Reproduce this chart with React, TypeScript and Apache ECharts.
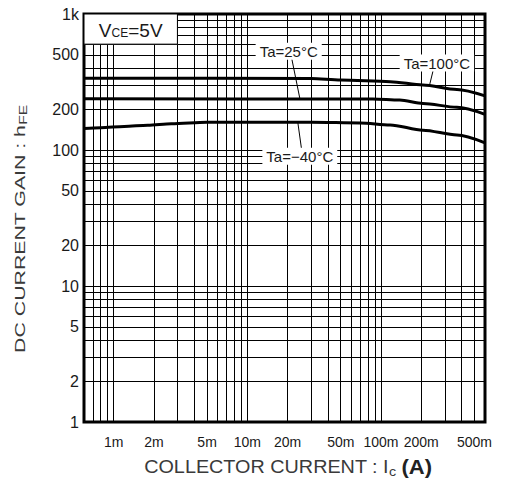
import React, { useEffect, useRef } from 'react';
import * as echarts from 'echarts';

const FONT = '"Liberation Sans", Arial, Helvetica, sans-serif';
const INK = '#1a1a1a';
const TITLE_INK = '#3a3a3a';

// axis ticks / labels
const xLabelValues = [0.001, 0.002, 0.005, 0.01, 0.02, 0.05, 0.1, 0.2, 0.5];
const yLabelValues = [1, 2, 5, 10, 20, 50, 100, 200, 500, 1000];
const xMin = 0.0006;
const xMax = 0.6;
const yMin = 1;
const yMax = 1000;

// log grid mantissas and decades
const mantissas = [1, 2, 3, 4, 5, 6, 7, 8, 9];
const xDecades = [0.0001, 0.001, 0.01, 0.1];
const yDecades = [1, 10, 100];

// curves: collector current (A) vs hFE
const ic100 = [0.0006, 0.03, 0.05, 0.117, 0.206, 0.37, 0.6];
const hfe100 = [337, 336, 327, 318, 301, 279, 250];
const ic25 = [0.0006, 0.087, 0.138, 0.206, 0.37, 0.6];
const hfe25 = [238, 237, 233, 220, 206, 183];
const icM40 = [0.0006, 0.0008, 0.0012, 0.0018, 0.0027, 0.005, 0.03, 0.07, 0.117, 0.206, 0.37, 0.6];
const hfeM40 = [144, 146, 149, 152, 156, 160, 160, 158, 153, 140, 129, 113];

// annotations (data coordinates)
const vceBox = [[0.0006, 600], [0.003, 1000]];
const labelNames = ['Ta=25°C', 'Ta=100°C', 'Ta=−40°C'];
const labelCoords = [[0.0204, 532], [0.262, 436], [0.0247, 90]];
const leaderStarts = [[0.0215, 470], [0.245, 381], [0.0239, 158]];
const leaderEnds = [[0.0247, 240], [0.232, 306], [0.0255, 100]];

function gridValues(decades: number[], lo: number, hi: number) {
  const out: number[] = [];
  decades.forEach((d) => mantissas.forEach((m) => {
    const v = parseFloat((d * m).toPrecision(6));
    if (v > lo * 1.0001 && v < hi * 0.9999) out.push(v);
  }));
  return out;
}

const zip = (xs: number[], ys: number[]) => xs.map((x, i) => [x, ys[i]]);

export default function App() {
  const ref = useRef<HTMLDivElement>(null);
  useEffect(() => {
    document.body.style.margin = '0';
    const chart = echarts.init(ref.current!, null, { renderer: 'svg' });
    const xGrid = gridValues(xDecades, xMin, xMax);
    const yGrid = gridValues(yDecades, yMin, yMax);
    const curveStyle = { color: '#000', width: 3 };
    const curve = (name: string, xs: number[], ys: number[]) => ({
      name,
      type: 'line',
      data: zip(xs, ys),
      showSymbol: false,
      symbol: 'none',
      smooth: 0.3,
      smoothMonotone: 'x',
      lineStyle: curveStyle,
      z: 4,
      silent: true,
    });
    chart.setOption({
      animation: false,
      grid: {
        left: 84, top: 14, width: 401, height: 408,
        show: true, borderColor: '#000', borderWidth: 3, backgroundColor: 'transparent',
      },
      xAxis: {
        type: 'log', logBase: 10, min: xMin, max: xMax,
        axisLine: { show: false }, axisTick: { show: false }, splitLine: { show: false },
        minorTick: { show: false }, minorSplitLine: { show: false },
        axisLabel: {
          customValues: xLabelValues,
          formatter: (v: number) => Math.round(v * 1000) + 'm',
          fontFamily: FONT, fontSize: 14, color: INK, margin: 13,
        },
      },
      yAxis: {
        type: 'log', logBase: 10, min: yMin, max: yMax,
        axisLine: { show: false }, axisTick: { show: false }, splitLine: { show: false },
        minorTick: { show: false }, minorSplitLine: { show: false },
        axisLabel: {
          customValues: yLabelValues,
          formatter: (v: number) => (v >= 1000 ? '1k' : String(Math.round(v))),
          fontFamily: FONT, fontSize: 16, color: INK, margin: 5,
        },
      },
      series: [
        {
          name: 'grid',
          type: 'line',
          data: [],
          silent: true,
          z: 1,
          markLine: {
            silent: true, z: 2, symbol: ['none', 'none'],
            label: { show: false },
            lineStyle: { color: '#000', width: 1, type: 'solid' },
            emphasis: { disabled: true },
            data: [
              ...xGrid.map((v) => [{ coord: [v, yMin] }, { coord: [v, yMax] }]),
              ...yGrid.map((v) => [{ coord: [xMin, v] }, { coord: [xMax, v] }]),
            ],
          },
        },
        curve('Ta=100°C', ic100, hfe100),
        curve('Ta=25°C', ic25, hfe25),
        curve('Ta=−40°C', icM40, hfeM40),
        {
          name: 'annotations',
          type: 'line',
          data: [],
          silent: true,
          z: 6,
          markArea: {
            silent: true, z: 6,
            itemStyle: { color: '#fff', borderColor: '#000', borderWidth: 1 },
            label: {
              show: true, position: 'inside',
              formatter: '{v|V}{s|CE}{v|=5V}',
              rich: {
                v: { fontFamily: FONT, fontSize: 19, color: INK, verticalAlign: 'bottom', lineHeight: 22 },
                s: { fontFamily: FONT, fontSize: 12, color: INK, verticalAlign: 'bottom', lineHeight: 22, padding: [0, 0, 1, 0] },
              },
            },
            data: [[{ xAxis: vceBox[0][0], yAxis: vceBox[0][1] }, { xAxis: vceBox[1][0], yAxis: vceBox[1][1] }]],
          },
          markLine: {
            silent: true, z: 7, symbol: ['none', 'none'],
            label: { show: false },
            lineStyle: { color: '#000', width: 1, type: 'solid' },
            emphasis: { disabled: true },
            data: leaderStarts.map((s, i) => [{ coord: s }, { coord: leaderEnds[i] }]),
          },
          markPoint: {
            silent: true, z: 8,
            symbol: 'rect', symbolSize: 0,
            label: {
              show: true, position: 'inside',
              fontFamily: FONT, fontSize: 15, color: INK,
              backgroundColor: '#fff', padding: [1, 4, 1, 4],
              formatter: (p: any) => p.name,
            },
            data: labelNames.map((n, i) => ({ name: n, coord: labelCoords[i] })),
          },
        },
      ],
      graphic: [
        {
          type: 'text', x: 288, y: 467, scaleX: 1.1, silent: true,
          style: {
            text: 'COLLECTOR CURRENT : I{s|c} {b|(A)}',
            fontFamily: FONT, fontSize: 18, fill: TITLE_INK,
            align: 'center', verticalAlign: 'middle',
            rich: {
              s: { fontFamily: FONT, fontSize: 13, fill: TITLE_INK, verticalAlign: 'bottom', lineHeight: 20 },
              b: { fontFamily: FONT, fontSize: 20, fontWeight: 'bold', fill: '#222', lineHeight: 22 },
            },
          },
        },
        {
          type: 'text', x: 20, y: 229, rotation: Math.PI / 2, scaleX: 1.42, silent: true,
          style: {
            text: 'DC CURRENT GAIN : h{s|FE}',
            fontFamily: FONT, fontSize: 15, fill: TITLE_INK,
            align: 'center', verticalAlign: 'middle',
            rich: {
              s: { fontFamily: FONT, fontSize: 11, fill: TITLE_INK, verticalAlign: 'bottom', lineHeight: 18 },
            },
          },
        },
      ],
    });
    return () => chart.dispose();
  }, []);
  return <div ref={ref} style={{ width: 506, height: 490 }} />;
}
